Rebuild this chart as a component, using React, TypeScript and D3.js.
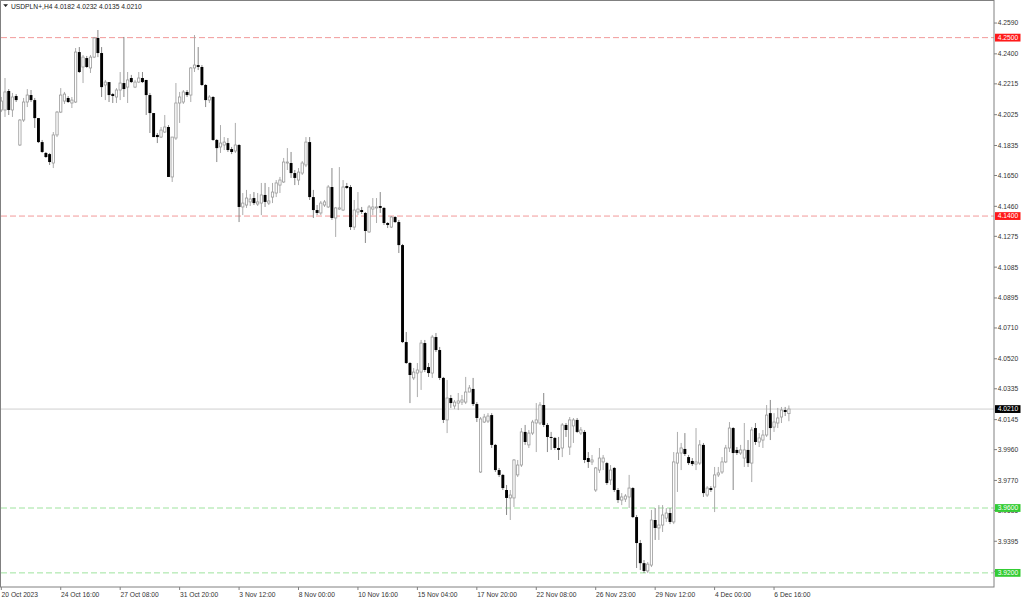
import { useEffect, useRef } from "react"
import * as d3 from "d3"

const symbol = "USDPLN+"
const timeframe = "H4"

// [open, high, low, close] per H4 bar, oldest first
const candles: [number, number, number, number][] = [
  [4.2054, 4.2134, 4.2041, 4.2109], [4.2054, 4.2251, 4.2011, 4.2165], [4.2171, 4.2183, 4.2023, 4.2054], [4.2054, 4.2159, 4.2011, 4.2134],
  [4.2140, 4.2152, 4.2103, 4.2115], [4.1838, 4.1998, 4.1832, 4.1992], [4.1992, 4.2128, 4.1980, 4.2103], [4.2103, 4.2183, 4.2072, 4.2146],
  [4.2146, 4.2177, 4.2103, 4.2115], [4.2115, 4.2128, 4.1943, 4.2004], [4.2004, 4.2004, 4.1850, 4.1856], [4.1856, 4.1869, 4.1789, 4.1795],
  [4.1789, 4.1795, 4.1758, 4.1764], [4.1782, 4.1789, 4.1715, 4.1733], [4.1727, 4.1918, 4.1696, 4.1900], [4.1900, 4.2048, 4.1887, 4.2041],
  [4.2041, 4.2189, 4.2035, 4.2146], [4.2109, 4.2165, 4.2091, 4.2152], [4.2128, 4.2140, 4.2097, 4.2103], [4.2097, 4.2134, 4.2066, 4.2115],
  [4.2103, 4.2436, 4.2097, 4.2411], [4.2411, 4.2442, 4.2282, 4.2288], [4.2319, 4.2393, 4.2220, 4.2380], [4.2374, 4.2387, 4.2313, 4.2319],
  [4.2313, 4.2393, 4.2282, 4.2380], [4.2380, 4.2504, 4.2374, 4.2498], [4.2498, 4.2547, 4.2380, 4.2405], [4.2405, 4.2442, 4.2134, 4.2195],
  [4.2208, 4.2239, 4.2115, 4.2226], [4.2226, 4.2226, 4.2103, 4.2146], [4.2152, 4.2159, 4.2097, 4.2140], [4.2134, 4.2189, 4.2097, 4.2177],
  [4.2177, 4.2288, 4.2115, 4.2220], [4.2220, 4.2504, 4.2134, 4.2183], [4.2195, 4.2288, 4.2097, 4.2239], [4.2251, 4.2270, 4.2220, 4.2226],
  [4.2195, 4.2239, 4.2189, 4.2226], [4.2226, 4.2288, 4.2220, 4.2251], [4.2251, 4.2288, 4.2220, 4.2226], [4.2239, 4.2239, 4.2023, 4.2146],
  [4.2146, 4.2159, 4.1912, 4.2035], [4.2035, 4.2035, 4.1887, 4.1887], [4.1900, 4.1912, 4.1850, 4.1887], [4.1887, 4.1949, 4.1881, 4.1930],
  [4.1918, 4.2023, 4.1912, 4.1949], [4.1949, 4.1961, 4.1641, 4.1641], [4.1641, 4.1887, 4.1610, 4.1887], [4.1881, 4.2220, 4.1869, 4.2097],
  [4.2097, 4.2165, 4.1974, 4.2134], [4.2103, 4.2177, 4.2091, 4.2165], [4.2165, 4.2177, 4.2134, 4.2146], [4.2146, 4.2319, 4.2103, 4.2313],
  [4.2313, 4.2516, 4.2288, 4.2331], [4.2331, 4.2442, 4.2300, 4.2319], [4.2319, 4.2331, 4.2202, 4.2208], [4.2208, 4.2214, 4.2072, 4.2115],
  [4.2115, 4.2146, 4.2097, 4.2134], [4.2134, 4.2140, 4.1863, 4.1869], [4.1869, 4.1875, 4.1733, 4.1819], [4.1826, 4.1961, 4.1789, 4.1850],
  [4.1838, 4.1887, 4.1807, 4.1856], [4.1850, 4.1881, 4.1795, 4.1807], [4.1813, 4.1826, 4.1782, 4.1795], [4.1801, 4.1974, 4.1789, 4.1838],
  [4.1838, 4.1844, 4.1363, 4.1456], [4.1456, 4.1542, 4.1406, 4.1480], [4.1468, 4.1561, 4.1450, 4.1511], [4.1487, 4.1536, 4.1462, 4.1505],
  [4.1511, 4.1548, 4.1468, 4.1480], [4.1474, 4.1542, 4.1462, 4.1487], [4.1480, 4.1604, 4.1406, 4.1530], [4.1530, 4.1604, 4.1456, 4.1487],
  [4.1480, 4.1579, 4.1468, 4.1493], [4.1517, 4.1604, 4.1480, 4.1548], [4.1542, 4.1622, 4.1517, 4.1604], [4.1591, 4.1641, 4.1542, 4.1622],
  [4.1610, 4.1758, 4.1604, 4.1733], [4.1727, 4.1819, 4.1684, 4.1733], [4.1727, 4.1795, 4.1635, 4.1665], [4.1665, 4.1684, 4.1591, 4.1635],
  [4.1622, 4.1696, 4.1591, 4.1671], [4.1665, 4.1739, 4.1653, 4.1727], [4.1715, 4.1887, 4.1702, 4.1856], [4.1856, 4.1887, 4.1499, 4.1517],
  [4.1517, 4.1561, 4.1388, 4.1437], [4.1437, 4.1468, 4.1406, 4.1419], [4.1419, 4.1493, 4.1406, 4.1480], [4.1468, 4.1499, 4.1456, 4.1487],
  [4.1456, 4.1591, 4.1450, 4.1579], [4.1579, 4.1696, 4.1376, 4.1388], [4.1388, 4.1456, 4.1271, 4.1450], [4.1443, 4.1702, 4.1437, 4.1450],
  [4.1437, 4.1622, 4.1431, 4.1579], [4.1585, 4.1604, 4.1567, 4.1573], [4.1579, 4.1591, 4.1314, 4.1332], [4.1332, 4.1499, 4.1314, 4.1437],
  [4.1425, 4.1548, 4.1406, 4.1443], [4.1437, 4.1456, 4.1413, 4.1425], [4.1419, 4.1425, 4.1234, 4.1308], [4.1302, 4.1468, 4.1296, 4.1456],
  [4.1443, 4.1511, 4.1406, 4.1456], [4.1450, 4.1511, 4.1357, 4.1456], [4.1462, 4.1548, 4.1419, 4.1450], [4.1450, 4.1456, 4.1345, 4.1357],
  [4.1357, 4.1363, 4.1326, 4.1345], [4.1332, 4.1400, 4.1326, 4.1394], [4.1394, 4.1400, 4.1357, 4.1363], [4.1363, 4.1376, 4.1172, 4.1221],
  [4.1221, 4.1228, 4.0617, 4.0623], [4.0623, 4.0685, 4.0488, 4.0494], [4.0494, 4.0500, 4.0247, 4.0420], [4.0402, 4.0463, 4.0389, 4.0438],
  [4.0432, 4.0494, 4.0284, 4.0451], [4.0438, 4.0636, 4.0328, 4.0617], [4.0617, 4.0636, 4.0438, 4.0451], [4.0469, 4.0494, 4.0408, 4.0432],
  [4.0432, 4.0667, 4.0402, 4.0654], [4.0654, 4.0679, 4.0562, 4.0574], [4.0574, 4.0593, 4.0389, 4.0402], [4.0402, 4.0408, 4.0124, 4.0143],
  [4.0143, 4.0389, 4.0062, 4.0278], [4.0278, 4.0297, 4.0217, 4.0247], [4.0229, 4.0266, 4.0210, 4.0253], [4.0247, 4.0309, 4.0204, 4.0260],
  [4.0253, 4.0297, 4.0235, 4.0266], [4.0253, 4.0408, 4.0241, 4.0315], [4.0315, 4.0358, 4.0315, 4.0340], [4.0334, 4.0402, 4.0229, 4.0241],
  [4.0241, 4.0253, 4.0130, 4.0155], [3.9822, 4.0161, 3.9816, 4.0149], [4.0130, 4.0180, 4.0124, 4.0161], [4.0136, 4.0185, 4.0124, 4.0167],
  [4.0173, 4.0185, 3.9970, 3.9989], [3.9989, 3.9995, 3.9822, 3.9834], [3.9834, 3.9847, 3.9791, 3.9804], [3.9804, 3.9810, 3.9711, 3.9723],
  [3.9711, 3.9742, 3.9557, 3.9662], [3.9662, 3.9711, 3.9526, 3.9680], [3.9662, 3.9902, 3.9606, 3.9896], [3.9804, 3.9896, 3.9791, 3.9865],
  [3.9865, 4.0093, 3.9853, 4.0069], [4.0069, 4.0112, 3.9989, 4.0007], [3.9989, 4.0081, 3.9970, 4.0062], [4.0062, 4.0143, 4.0050, 4.0130],
  [4.0124, 4.0247, 3.9945, 4.0143], [4.0124, 4.0253, 4.0112, 4.0235], [4.0235, 4.0309, 4.0099, 4.0112], [4.0112, 4.0124, 3.9945, 4.0038],
  [4.0038, 4.0069, 3.9958, 4.0032], [4.0032, 4.0038, 3.9958, 3.9970], [3.9970, 4.0038, 3.9896, 3.9958], [3.9970, 4.0124, 3.9914, 4.0112],
  [4.0112, 4.0124, 4.0038, 4.0081], [3.9976, 4.0161, 3.9927, 4.0143], [4.0106, 4.0155, 4.0001, 4.0143], [4.0143, 4.0155, 4.0062, 4.0069],
  [4.0062, 4.0099, 4.0050, 4.0081], [4.0069, 4.0081, 3.9877, 3.9896], [3.9908, 3.9945, 3.9847, 3.9884], [3.9884, 3.9927, 3.9865, 3.9896],
  [3.9711, 3.9853, 3.9699, 3.9847], [3.9834, 3.9970, 3.9816, 3.9908], [3.9884, 3.9927, 3.9834, 3.9908], [3.9877, 3.9884, 3.9742, 3.9754],
  [3.9773, 3.9865, 3.9742, 3.9834], [3.9847, 3.9853, 3.9699, 3.9711], [3.9711, 3.9723, 3.9631, 3.9649], [3.9649, 3.9692, 3.9618, 3.9668],
  [3.9655, 3.9686, 3.9637, 3.9674], [3.9668, 3.9804, 3.9600, 3.9723], [3.9723, 3.9729, 3.9538, 3.9544], [3.9544, 3.9557, 3.9230, 3.9384],
  [3.9384, 3.9403, 3.9218, 3.9260], [3.9260, 3.9279, 3.9199, 3.9212], [3.9212, 3.9267, 3.9199, 3.9254], [3.9248, 3.9588, 3.9236, 3.9526],
  [3.9526, 3.9600, 3.9403, 3.9477], [3.9477, 3.9618, 3.9403, 3.9495], [3.9495, 3.9618, 3.9452, 3.9557], [3.9538, 3.9600, 3.9514, 3.9569],
  [3.9569, 3.9600, 3.9501, 3.9514], [3.9514, 3.9945, 3.9501, 3.9884], [3.9877, 4.0069, 3.9699, 3.9939], [3.9939, 4.0001, 3.9834, 3.9970],
  [3.9964, 4.0062, 3.9921, 3.9933], [3.9914, 3.9927, 3.9865, 3.9877], [3.9890, 3.9908, 3.9859, 3.9871], [3.9871, 4.0093, 3.9834, 3.9884],
  [3.9877, 4.0019, 3.9865, 3.9989], [3.9989, 4.0001, 3.9668, 3.9692], [3.9680, 3.9735, 3.9668, 3.9723], [3.9723, 3.9735, 3.9699, 3.9711],
  [3.9729, 3.9853, 3.9575, 3.9804], [3.9804, 3.9853, 3.9791, 3.9816], [3.9822, 3.9914, 3.9810, 3.9884], [3.9884, 3.9989, 3.9877, 3.9970],
  [3.9970, 4.0130, 3.9945, 4.0093], [4.0093, 4.0099, 3.9711, 3.9939], [3.9958, 3.9976, 3.9927, 3.9939], [3.9939, 3.9989, 3.9927, 3.9958],
  [3.9908, 4.0124, 3.9853, 3.9958], [3.9958, 4.0019, 3.9853, 3.9877], [3.9877, 4.0099, 3.9760, 4.0081], [4.0093, 4.0124, 3.9989, 4.0007],
  [4.0007, 4.0062, 3.9976, 4.0032], [4.0019, 4.0081, 3.9970, 4.0050], [4.0050, 4.0235, 4.0038, 4.0173], [4.0185, 4.0266, 4.0019, 4.0093],
  [4.0099, 4.0185, 4.0069, 4.0130], [4.0124, 4.0217, 4.0093, 4.0155], [4.0161, 4.0223, 4.0124, 4.0204], [4.0204, 4.0223, 4.0167, 4.0192],
  [4.0182, 4.0232, 4.0135, 4.0210],
]

// one time label every 16 bars, starting at the first visible bar
const labelEvery = 16
const timeLabels = [
  "20 Oct 2023", "24 Oct 16:00", "27 Oct 08:00", "31 Oct 20:00", "3 Nov 12:00", "8 Nov 00:00", "10 Nov 16:00",
  "15 Nov 04:00", "17 Nov 20:00", "22 Nov 08:00", "26 Nov 23:00", "29 Nov 12:00", "4 Dec 00:00", "6 Dec 16:00",
]

const priceTicks = [
  4.2590, 4.2400, 4.2215, 4.2025, 4.1835, 4.1650, 4.1460, 4.1275, 4.1085, 4.0895,
  4.0710, 4.0520, 4.0335, 4.0145, 3.9960, 3.9770, 3.9585, 3.9395, 3.9210,
]

const resistanceLevels = [4.25, 4.14]
const supportLevels = [3.96, 3.92]

const FONT = "'Liberation Sans', Arial, sans-serif"

export default function App() {
  const ref = useRef<SVGSVGElement>(null)

  useEffect(() => {
    if (!ref.current) return
    const svg = d3.select(ref.current)
    svg.selectAll("*").remove()

    const width = 1024
    const height = 600
    const plotRight = 994
    const plotBottom = 587

    const x = d3.scaleLinear().domain([0, candles.length - 1]).range([1.3, 788.9])
    const y = d3.scaleLinear().domain([3.9113, 4.2732]).range([plotBottom, 0])

    svg.append("rect").attr("width", width).attr("height", height).attr("fill", "#fff")

    // horizontal levels
    const level = (p: number, color: string, dash: string | null) => {
      const l = svg.append("line")
        .attr("x1", 1).attr("x2", plotRight)
        .attr("y1", y(p)).attr("y2", y(p))
        .attr("stroke", color).attr("stroke-width", 1)
      if (dash) l.attr("stroke-dasharray", dash)
    }
    const last = candles[candles.length - 1]
    level(last[3], "#cfcfcf", null)
    resistanceLevels.forEach((p) => level(p, "#f29a9a", "6 3"))
    supportLevels.forEach((p) => level(p, "#9ee39e", "6 3"))

    // candles
    const g = svg.append("g")
    candles.forEach(([o, h, l, c], i) => {
      const cx = x(i)
      const up = c >= o
      g.append("line")
        .attr("x1", cx).attr("x2", cx)
        .attr("y1", y(h)).attr("y2", y(l))
        .attr("stroke", up ? "#a3a3a3" : "#7a7a7a")
        .attr("stroke-width", 0.9)
      const top = y(Math.max(o, c))
      const bh = Math.max(0.9, Math.abs(y(o) - y(c)))
      if (up) {
        g.append("rect")
          .attr("x", cx - 1.15).attr("y", top)
          .attr("width", 2.3).attr("height", bh)
          .attr("fill", "#fff").attr("stroke", "#9a9a9a").attr("stroke-width", 0.8)
      } else {
        g.append("rect")
          .attr("x", cx - 1.45).attr("y", top)
          .attr("width", 2.9).attr("height", bh)
          .attr("fill", "#000")
      }
    })

    // frame
    svg.append("rect")
      .attr("x", 0.5).attr("y", 0.5)
      .attr("width", plotRight - 0.5).attr("height", plotBottom - 0.5)
      .attr("fill", "none").attr("stroke", "#808080").attr("stroke-width", 1)

    // price axis
    priceTicks.forEach((p) => {
      svg.append("line")
        .attr("x1", plotRight).attr("x2", plotRight + 3)
        .attr("y1", y(p)).attr("y2", y(p))
        .attr("stroke", "#808080")
      svg.append("text")
        .attr("x", plotRight + 3.8).attr("y", y(p) + 2.4)
        .attr("font-family", FONT).attr("font-size", "6.7px").attr("fill", "#333")
        .text(p.toFixed(4))
    })

    // time axis
    timeLabels.forEach((t, k) => {
      const tx = x(k * labelEvery)
      svg.append("line")
        .attr("x1", tx).attr("x2", tx)
        .attr("y1", plotBottom).attr("y2", plotBottom + 3)
        .attr("stroke", "#808080")
      svg.append("text")
        .attr("x", tx + 0.3).attr("y", 596.5)
        .attr("font-family", FONT).attr("font-size", "6.7px").attr("fill", "#333")
        .text(t)
    })

    // price tags for levels
    const tag = (p: number, bg: string) => {
      svg.append("rect")
        .attr("x", plotRight + 1).attr("y", y(p) - 3.9)
        .attr("width", 25.5).attr("height", 7.8)
        .attr("fill", bg)
      svg.append("text")
        .attr("x", plotRight + 3.8).attr("y", y(p) + 2.4)
        .attr("font-family", FONT).attr("font-size", "6.7px").attr("fill", "#fff")
        .text(p.toFixed(4))
    }
    resistanceLevels.forEach((p) => tag(p, "#ff1a1a"))
    supportLevels.forEach((p) => tag(p, "#33cc33"))
    tag(last[3], "#000")

    // title
    svg.append("path").attr("d", "M3.2,4.3 L8,4.3 L5.6,7 Z").attr("fill", "#222")
    svg.append("text")
      .attr("x", 11).attr("y", 9.2)
      .attr("font-family", FONT).attr("font-size", "6.7px").attr("fill", "#222")
      .text(`${symbol},${timeframe}  ${last.map((v) => v.toFixed(4)).join(" ")}`)
  }, [])

  return (
    <svg
      ref={ref}
      width={1024}
      height={600}
      style={{ position: "absolute", left: 0, top: 0, display: "block" }}
    />
  )
}
